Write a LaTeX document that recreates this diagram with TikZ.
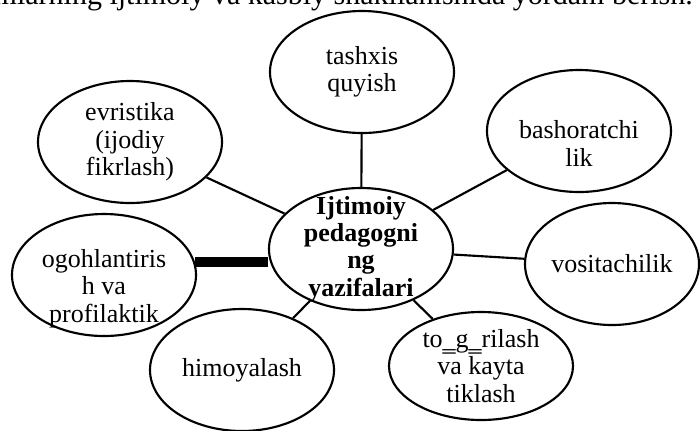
\documentclass[tikz,border=0pt]{standalone}
\usepackage{fontspec}
\setmainfont{Liberation Serif}
\usetikzlibrary{shapes.geometric}

\begin{document}
\begin{tikzpicture}[
        x=0.75pt, y=-0.75pt,
        bubble/.style={ellipse, draw, line width=1.6pt, minimum width=138pt, minimum height=91.5pt, inner sep=0pt},
        txt/.style={align=center, inner sep=0pt, font=\fontsize{19.5}{20.6}\selectfont},
        link/.style={line width=1.6pt},
        heavy/.style={line width=7.5pt},
    ]
    \useasboundingbox (0,0) rectangle (700,430);
    \clip (0,0) rectangle (700,430);

    % Heading line, cut off at the top edge
    \node[anchor=base east, inner sep=0pt, font=\fontsize{22.5}{27}\selectfont] (title) at (693,4)
        {mlarning ijtimoiy va kasbiy shakllanishida yordam berish.};

    % Draw the centre node
    \node[bubble, label={[txt, font=\bfseries\fontsize{19.5}{20.6}\selectfont]center:{Ijtimoiy\\pedagogni\\ng\\yazifalari}}] (c) at (361,249) {};

    % Draw the outer nodes
    \node[bubble, label={[txt]center:{tashxis\\quyish}}] (ta) at (362,72) {};
    \node[bubble, label={[txt]center:{evristika\\(ijodiy\\fikrlash)}}] (ev) at (130,142) {};
    \node[bubble, label={[txt, yshift=-9.5pt]center:{bashoratchi\\lik}}] (ba) at (579,131) {};
    \node[bubble, minimum width=130.5pt, label={[txt]center:vositachilik}] (vo) at (612,264) {};
    \node[bubble, minimum height=81pt, label={[txt]center:{to‗g‗rilash\\va kayta\\tiklash}}] (tg) at (481,366) {};
    \node[bubble, label={[txt]center:himoyalash}] (hi) at (242,370) {};
    \node[bubble, label={[txt, yshift=-10pt]center:{ogohlantiris\\h va\\profilaktik}}] (og) at (104,275) {};

    % Connect the centre with every outer node
    \foreach \dest in {ta,ev,ba,vo,tg,hi}
        \path (c) edge[link] (\dest);
    \draw[heavy] (og.8) -- (og.8 -| c.west);
\end{tikzpicture}
\end{document}
